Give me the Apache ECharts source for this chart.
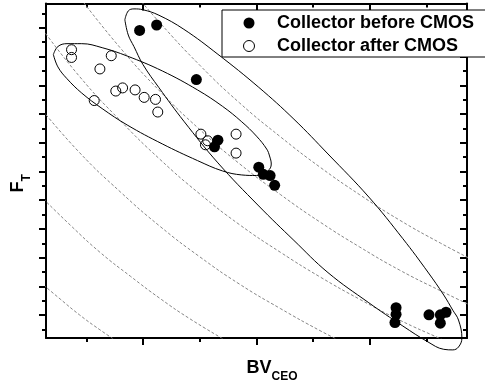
<!DOCTYPE html>
<html>
<head>
<meta charset="utf-8">
<script src="https://cdn.jsdelivr.net/npm/echarts@6/dist/echarts.min.js"></script>
<style>
    html, body { margin: 0; padding: 0; background: #fff; }
    #chart { width: 485px; height: 388px; }
</style>
</head>
<body>
<div id="chart"></div>
<script>
'use strict';

// axis ranges and tick positions (no tick labels on this figure)
var xRange = [0.145, 3.855];
var yRange = [0.204, 11.848];
var xTicks = [1, 2, 3];
var yTicks = [1, 2, 3, 4, 5, 6, 7, 8, 9, 10, 11];

var seriesNames = ['Collector before CMOS', 'Collector after CMOS'];

// measured points [BVceo, fT]
var beforeCMOS = [
    [0.97, 10.91], [1.12, 11.10], [1.47, 9.20], [1.66, 7.09], [1.63, 6.86],
    [2.02, 6.15], [2.06, 5.90], [2.12, 5.86], [2.16, 5.52],
    [3.23, 1.26], [3.23, 1.03], [3.22, 0.74],
    [3.52, 1.01], [3.62, 1.01], [3.67, 1.10], [3.62, 0.72]
];
var afterCMOS = [
    [0.37, 10.24], [0.37, 9.97], [0.72, 10.03], [0.62, 9.57], [0.57, 8.47],
    [0.76, 8.80], [0.82, 8.91], [0.93, 8.84], [1.01, 8.58], [1.11, 8.51],
    [1.13, 8.07], [1.51, 7.30], [1.57, 7.07], [1.55, 6.93], [1.82, 7.30],
    [1.82, 6.64]
];

// outlines of the two groups
var ellipseBefore = [
    [0.84, 11.28], [0.87, 11.59], [0.92, 11.66], [1.00, 11.63], [1.14, 11.44],
    [1.36, 10.95], [1.66, 10.08], [2.02, 8.93], [2.33, 7.82], [2.63, 6.61],
    [2.99, 5.11], [3.29, 3.66], [3.51, 2.50], [3.65, 1.70], [3.73, 1.17],
    [3.78, 0.83], [3.81, 0.20], [3.78, -0.11], [3.73, -0.21], [3.65, -0.19],
    [3.51, 0.07], [3.29, 0.62], [2.99, 1.43], [2.63, 2.48], [2.33, 3.60],
    [2.02, 4.80], [1.66, 6.30], [1.36, 7.75], [1.14, 8.92], [1.00, 9.72],
    [0.92, 10.35], [0.87, 10.75], [0.84, 11.28]
];
var ellipseAfter = [
    [0.21, 10.07], [0.25, 10.35], [0.33, 10.45], [0.46, 10.45], [0.64, 10.31],
    [0.86, 10.02], [1.17, 9.50], [1.48, 8.84], [1.70, 8.27], [1.87, 7.73],
    [2.00, 7.23], [2.09, 6.78], [2.115, 6.54], [2.13, 6.26], [2.10, 6.02],
    [2.00, 5.86], [1.87, 5.88], [1.70, 6.02], [1.48, 6.38], [1.17, 6.96],
    [0.86, 7.62], [0.64, 8.19], [0.46, 8.73], [0.33, 9.23], [0.25, 9.64],
    [0.21, 10.07]
];

// constant fT*BVceo guide lines
var guide1 = [[0.09, 2.16], [0.27, 1.56], [0.44, 1.01], [0.62, 0.49], [0.80, 0.01]];
var guide2 = [[0.09, 5.17], [0.36, 4.13], [0.62, 3.19], [0.89, 2.35], [1.15, 1.58], [1.41, 0.88], [1.72, 0.14]];
var guide3 = [[0.09, 8.24], [0.44, 6.66], [0.80, 5.29], [1.15, 4.09], [1.50, 3.03], [1.85, 2.08], [2.21, 1.23], [2.56, 0.46], [2.78, 0.02]];
var guide4 = [[0.09, 11.08], [0.44, 9.31], [0.80, 7.77], [1.15, 6.42], [1.50, 5.22], [1.85, 4.15], [2.21, 3.19], [2.56, 2.33], [2.91, 1.55], [3.26, 0.83], [3.62, 0.18], [3.79, -0.12]];
var guide5 = [[0.45, 12.02], [0.80, 10.30], [1.15, 8.79], [1.50, 7.46], [1.85, 6.27], [2.21, 5.20], [2.56, 4.24], [2.91, 3.37], [3.26, 2.57], [3.62, 1.85], [3.93, 1.26]];
var guide6 = [[0.93, 12.18], [1.15, 11.17], [1.50, 9.70], [1.85, 8.39], [2.21, 7.21], [2.56, 6.15], [2.91, 5.19], [3.26, 4.31], [3.62, 3.51], [3.93, 2.87]];
var guides = [guide1, guide2, guide3, guide4, guide5, guide6];

var font = 'Liberation Sans, Arial, Helvetica, sans-serif';
var black = '#000';

var nameRich = {
    m: { fontSize: 18, fontWeight: 'bold', fontFamily: font, color: black },
    s: { fontSize: 12, fontWeight: 'bold', fontFamily: font, color: black, padding: [18, 0, 0, 0] }
};

function makeAxis(pos, range, ticks, inside, split) {
    return {
        type: 'value',
        position: pos,
        min: range[0],
        max: range[1],
        splitNumber: split,
        axisLine: { onZero: false, lineStyle: { color: black, width: 2 } },
        axisTick: {
            show: true,
            inside: inside,
            length: 7,
            customValues: ticks,
            lineStyle: { color: black, width: 2 }
        },
        minorTick: {
            show: true,
            splitNumber: 2,
            length: 4,
            lineStyle: { color: black, width: 2 }
        },
        axisLabel: { show: false },
        splitLine: { show: false },
        minorSplitLine: { show: false }
    };
}

var xBottom = makeAxis('bottom', xRange, xTicks, false, 5);
xBottom.name = '{m|BV}{s|CEO}';
xBottom.nameLocation = 'middle';
xBottom.nameGap = 15;
xBottom.nameTextStyle = { padding: [0, 0, 0, 31], rich: nameRich };

var yLeft = makeAxis('left', yRange, yTicks, false, 10);
yLeft.name = '{m|F}{s|T}';
yLeft.nameLocation = 'middle';
yLeft.nameGap = 13;
yLeft.nameTextStyle = { padding: [0, 25, 0, 0], rich: nameRich };

var series = [];
guides.forEach(function (g) {
    series.push({
        type: 'line',
        data: g,
        smooth: true,
        showSymbol: false,
        silent: true,
        z: 1,
        lineStyle: { color: '#858585', width: 1, type: [3, 2] }
    });
});
[ellipseAfter, ellipseBefore].forEach(function (e) {
    series.push({
        type: 'line',
        data: e,
        smooth: 0.4,
        showSymbol: false,
        silent: true,
        clip: false,
        z: 2,
        lineStyle: { color: black, width: 1 }
    });
});
series.push({
    name: seriesNames[1],
    type: 'scatter',
    data: afterCMOS,
    symbol: 'circle',
    symbolSize: 10,
    z: 3,
    itemStyle: { color: 'rgba(255,255,255,0)', borderColor: black, borderWidth: 1, opacity: 1 }
});
series.push({
    name: seriesNames[0],
    type: 'scatter',
    data: beforeCMOS,
    symbol: 'circle',
    symbolSize: 11,
    z: 4,
    itemStyle: { color: black, opacity: 1 }
});

var chart = echarts.init(document.getElementById('chart'), null, { renderer: 'canvas' });
chart.setOption({
    animation: false,
    backgroundColor: '#fff',
    grid: { left: 46, right: 18, top: 3.5, bottom: 48, containLabel: false },
    xAxis: [xBottom, makeAxis('top', xRange, xTicks, true, 5)],
    yAxis: [yLeft, makeAxis('right', yRange, yTicks, true, 10)],
    legend: {
        orient: 'vertical',
        left: 222,
        top: 10,
        padding: [4, 14, 2, 21],
        itemGap: 5,
        itemWidth: 46,
        itemHeight: 11,
        backgroundColor: '#fff',
        borderColor: black,
        borderWidth: 1,
        borderRadius: 0,
        selectedMode: false,
        textStyle: { fontSize: 18, fontWeight: 'bold', fontFamily: font, color: black },
        data: [
            { name: seriesNames[0], itemStyle: { color: black, borderWidth: 0, opacity: 1 } },
            { name: seriesNames[1], itemStyle: { color: 'rgba(255,255,255,0)', borderColor: black, borderWidth: 1, opacity: 1 } }
        ]
    },
    series: series
});
</script>
</body>
</html>
